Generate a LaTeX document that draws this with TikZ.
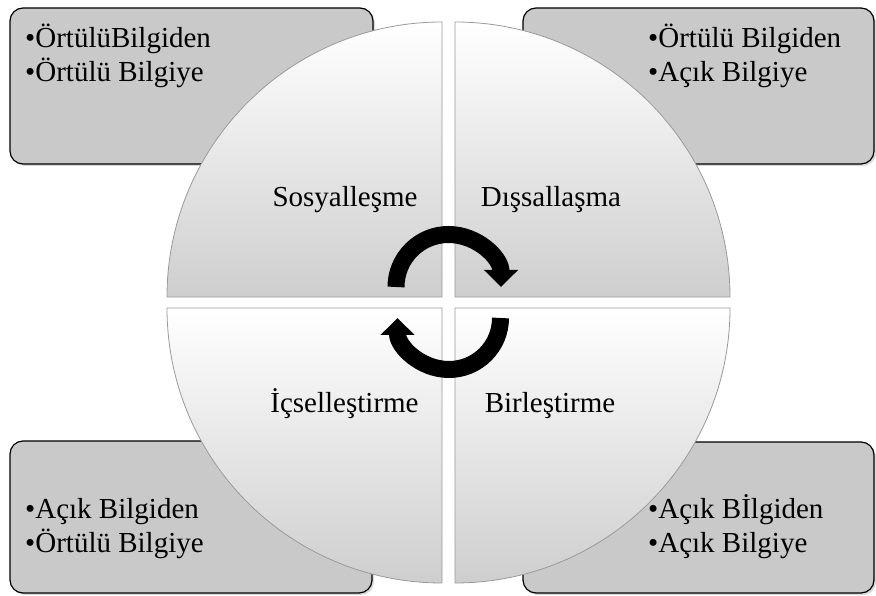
\documentclass[tikz,border=0pt]{standalone}
\usepackage{fontspec}
\setmainfont{Liberation Serif}
\usepackage{tikz}
\usetikzlibrary{arrows.meta, shadows, positioning}
\definecolor{boxGray}{HTML}{C9C9C9}
\definecolor{edgeGray}{HTML}{9A9A9A}
\definecolor{quadLow}{HTML}{CECECE}

\begin{document}
\begin{tikzpicture}[x=1pt, y=1pt,
        infobox/.style={rectangle, draw=black, line width=1.2pt, fill=boxGray, rounded corners=13pt, inner sep=0pt, drop shadow={opacity=0.3, shadow xshift=2pt, shadow yshift=-2pt}},
        itemtext/.style={font=\fontsize{29}{34}\selectfont, inner sep=0pt, anchor=base west},
        quad/.style={draw=edgeGray, line width=0.8pt, top color=white, bottom color=quadLow},
        modetext/.style={font=\fontsize{29}{34}\selectfont, inner sep=0pt, anchor=base},
        cyclearrow/.style={line width=17pt, draw=black, -{Triangle[width=33pt, length=17pt]}}]

        \useasboundingbox (0,0) rectangle (876,596);

        % Corner boxes
        \node[infobox, minimum width=363pt, minimum height=156pt] (sosBox) at (191.5,510) {};
        \node[infobox, minimum width=351pt, minimum height=156pt] (disBox) at (698.5,510) {};
        \node[infobox, minimum width=362pt, minimum height=152pt] (icsBox) at (191,79) {};
        \node[infobox, minimum width=351pt, minimum height=151pt] (birBox) at (698.5,78.5) {};

        % Circle quadrants
        \coordinate (qTL) at (442,299);
        \coordinate (qTR) at (455,299);
        \coordinate (qBL) at (442,288);
        \coordinate (qBR) at (455,288);
        \path[quad] (qTL) -- ++(-275,0) arc[start angle=180, end angle=90, radius=275] -- cycle;
        \path[quad] (qTR) -- ++(0,275) arc[start angle=90, end angle=0, radius=275] -- cycle;
        \path[quad] (qBL) -- ++(0,-275) arc[start angle=270, end angle=180, radius=275] -- cycle;
        \path[quad] (qBR) -- ++(275,0) arc[start angle=0, end angle=-90, radius=275] -- cycle;

        % Quadrant labels
        \node[modetext] (sos) at (345,389) {Sosyalleşme};
        \node[modetext] (dis) at (551,389) {Dışsallaşma};
        \node[modetext] (ics) at (344.5,183) {İçselleştirme};
        \node[modetext] (bir) at (550,183) {Birleştirme};

        % Box texts
        \node[itemtext] (sos1) at (25,548) {•ÖrtülüBilgiden};
        \node[itemtext] (sos2) at ([yshift=-34pt]sos1.base west) {•Örtülü Bilgiye};
        \node[itemtext] (dis1) at (648,548) {•Örtülü Bilgiden};
        \node[itemtext] (dis2) at ([yshift=-34pt]dis1.base west) {•Açık Bilgiye};
        \node[itemtext] (ics1) at (25,77) {•Açık Bilgiden};
        \node[itemtext] (ics2) at ([yshift=-34pt]ics1.base west) {•Örtülü Bilgiye};
        \node[itemtext] (bir1) at (648,77) {•Açık Bİlgiden};
        \node[itemtext] (bir2) at ([yshift=-34pt]bir1.base west) {•Açık Bilgiye};

        % Cycle arrows
        \coordinate (cTop) at (448.5,309);
        \coordinate (cBot) at (449,278);
        \draw[cyclearrow] ([shift={(180:52.5)}]cTop) arc[start angle=180, end angle=0, radius=52.5];
        \draw[cyclearrow] ([shift={(0:51.5)}]cBot) arc[start angle=0, end angle=-180, radius=51.5];
    \end{tikzpicture}
\end{document}
